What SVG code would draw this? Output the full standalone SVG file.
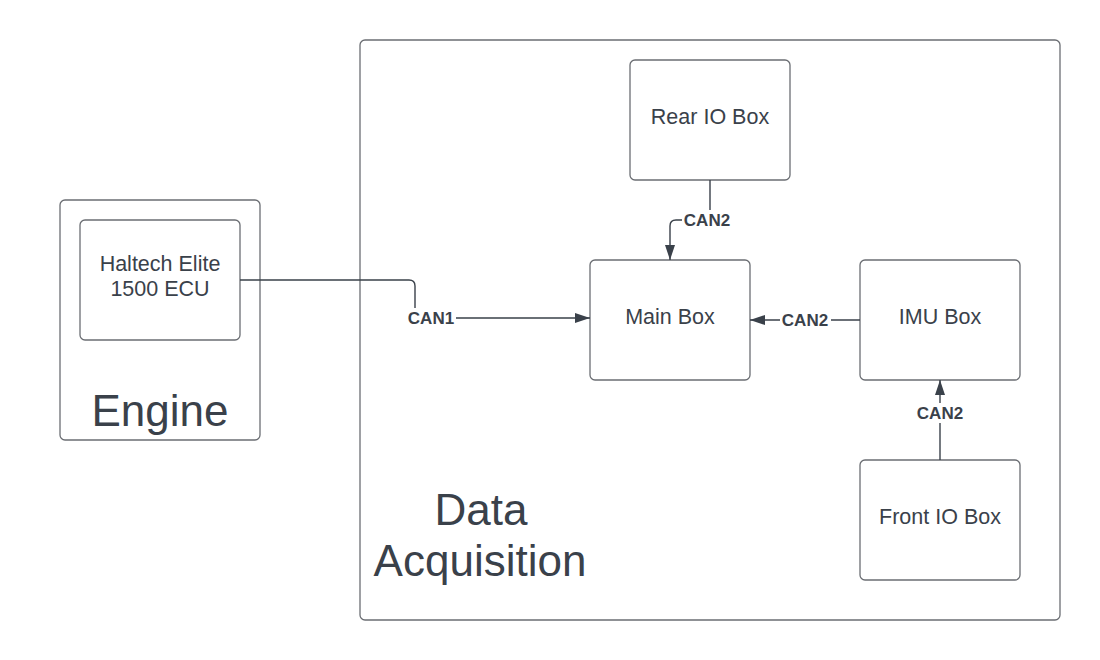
<svg xmlns="http://www.w3.org/2000/svg" width="1100" height="660" viewBox="0 0 1100 660">
  <defs>
    <style>
      .box { fill: #ffffff; stroke: #6b6e73; stroke-width: 1.3; }
      .t { font-family: "Liberation Sans", Arial, sans-serif; fill: #3a414a; text-anchor: middle; }
      .n { font-size: 21.5px; }
      .big { font-size: 44px; }
      .conn { fill: none; stroke: #3a414a; stroke-width: 1.4; }
      .lbl { font-family: "Liberation Sans", Arial, sans-serif; font-weight: bold; font-size: 17px; fill: #3a414a; text-anchor: middle; }
      .lblbg { fill: #ffffff; }
    </style>
    <marker id="arrow" viewBox="0 0 15 10" refX="15" refY="5" markerWidth="15" markerHeight="10" markerUnits="userSpaceOnUse" orient="auto">
      <path d="M0,0 L15,5 L0,10 Z" fill="#3a414a"/>
    </marker>
  </defs>
  <rect width="1100" height="660" fill="#ffffff"/>

  <g id="engine">
    <rect class="box" x="60" y="200" width="200" height="240" rx="5"/>
    <text class="t big" x="160" y="426">Engine</text>
  </g>
  <g id="data-acquisition">
    <rect class="box" x="360" y="40" width="700" height="580" rx="5"/>
    <text class="t big" x="481" y="525">Data</text>
    <text class="t big" x="480" y="576">Acquisition</text>
  </g>
  <g id="ecu">
    <rect class="box" x="80" y="220" width="160" height="120" rx="5"/>
    <text class="t n" x="160" y="271">Haltech Elite</text>
    <text class="t n" x="160" y="296">1500 ECU</text>
  </g>
  <g id="rear-io">
    <rect class="box" x="630" y="60" width="160" height="120" rx="5"/>
    <text class="t n" x="710" y="124">Rear IO Box</text>
  </g>
  <g id="main-box">
    <rect class="box" x="590" y="260" width="160" height="120" rx="5"/>
    <text class="t n" x="670" y="324">Main Box</text>
  </g>
  <g id="imu-box">
    <rect class="box" x="860" y="260" width="160" height="120" rx="5"/>
    <text class="t n" x="940" y="324">IMU Box</text>
  </g>
  <g id="front-io">
    <rect class="box" x="860" y="460" width="160" height="120" rx="5"/>
    <text class="t n" x="940" y="524">Front IO Box</text>
  </g>

  <g id="connectors">
    <path class="conn" d="M240,280 H409 Q415,280 415,286 V318 H590" marker-end="url(#arrow)"/>
    <rect class="lblbg" x="406" y="308" width="50" height="20"/>
    <text class="lbl" x="431" y="324">CAN1</text>

    <path class="conn" d="M710,180 V220 H676 Q670,220 670,226 V260" marker-end="url(#arrow)"/>
    <rect class="lblbg" x="682" y="210" width="51" height="20"/>
    <text class="lbl" x="707" y="226">CAN2</text>

    <path class="conn" d="M860,320 H750" marker-end="url(#arrow)"/>
    <rect class="lblbg" x="780" y="310" width="51" height="20"/>
    <text class="lbl" x="805" y="326">CAN2</text>

    <path class="conn" d="M940,460 V380" marker-end="url(#arrow)"/>
    <rect class="lblbg" x="914" y="403" width="52" height="20"/>
    <text class="lbl" x="940" y="419">CAN2</text>
  </g>
</svg>
